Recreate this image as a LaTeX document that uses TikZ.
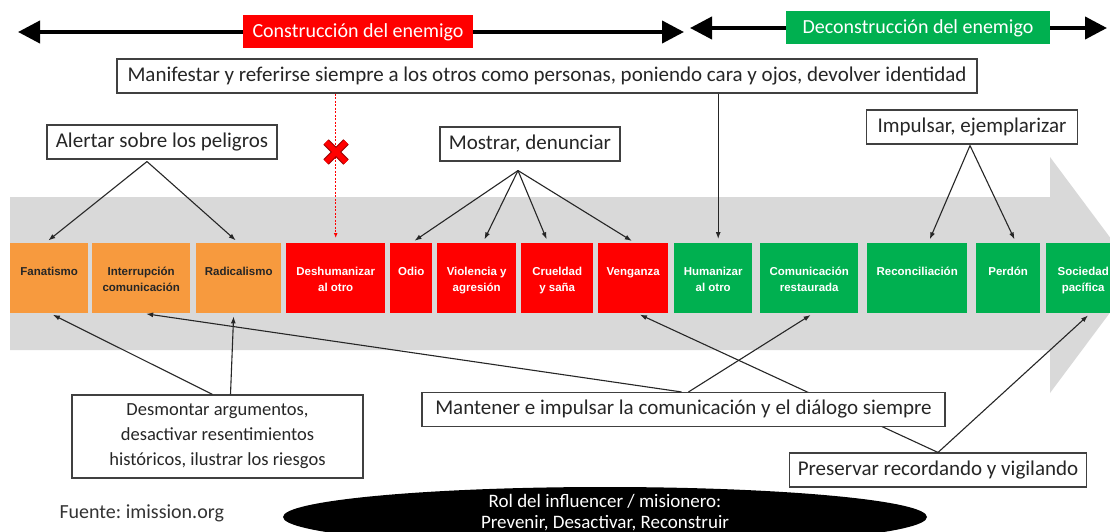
\documentclass[tikz,border=0pt]{standalone}
\usepackage{fontspec}
\setmainfont{Carlito}
\newfontfamily\arialf{Liberation Sans}
\usetikzlibrary{arrows.meta,shapes.geometric}
\frenchspacing
\definecolor{orng}{HTML}{F79A3E}
\definecolor{rd}{HTML}{FF0000}
\definecolor{grn}{HTML}{00B050}
\definecolor{gry}{HTML}{D9D9D9}
\definecolor{edge}{HTML}{404040}
\begin{document}
\begin{tikzpicture}[x=1pt,y=-1pt,
  note/.style={draw=edge, fill=white, line width=1.1pt, font=\fontsize{21}{25}\selectfont, inner xsep=8pt, inner ysep=0pt, minimum height=34pt, align=center, text=black!85},
  stage/.style={rectangle, minimum height=70pt, inner sep=0pt, anchor=north west},
  stagetxt/.style={anchor=north, inner sep=0pt, align=center, font=\arialf\bfseries\fontsize{11.5}{16}\selectfont},
  conn/.style={draw=black!85, line width=1.1pt, -{Latex[length=7pt,width=5pt]}},
  bigarrow/.style={line width=4pt, {Triangle[length=22pt,width=22pt]}-{Triangle[length=22pt,width=22pt]}},
  tag/.style={inner xsep=6pt, inner ysep=0pt, minimum height=33pt, text=white, font=\fontsize{20}{22}\selectfont}
]
\useasboundingbox (0,0) rectangle (1110,532);
\fill[white] (0,0) rectangle (1110,532);

% gray process arrow
\fill[gry] (10,197) -- (1050,197) -- (1050,157) -- (1138,275) -- (1050,393) -- (1050,350) -- (10,350) -- cycle;

% top arrows
\coordinate (tl) at (18,32);
\coordinate (tm) at (684,32);
\coordinate (tm2) at (690,28);
\coordinate (tr) at (1107,28);
\draw[bigarrow] (tl) -- (tm);
\draw[bigarrow] (tm2) -- (tr);
\node[tag, fill=rd, minimum width=230pt] (constr) at (358,32) {Construcción del enemigo};
\node[tag, fill=grn, minimum width=264pt] (deconstr) at (918,28) {Deconstrucción del enemigo};

% stage boxes
\node[stage, fill=orng, minimum width=78pt] (fan) at (10,243) {};
\node[stage, fill=orng, minimum width=98pt] (intr) at (92,243) {};
\node[stage, fill=orng, minimum width=85pt] (rad) at (196,243) {};
\node[stage, fill=rd, minimum width=99pt] (desh) at (286,243) {};
\node[stage, fill=rd, minimum width=42pt] (odio) at (390,243) {};
\node[stage, fill=rd, minimum width=79pt] (viol) at (437,243) {};
\node[stage, fill=rd, minimum width=72pt] (crue) at (521,243) {};
\node[stage, fill=rd, minimum width=70pt] (veng) at (598,243) {};
\node[stage, fill=grn, minimum width=78pt] (hum) at (674,243) {};
\node[stage, fill=grn, minimum width=98pt] (com) at (760,243) {};
\node[stage, fill=grn, minimum width=100pt] (reco) at (867,243) {};
\node[stage, fill=grn, minimum width=64pt] (perd) at (976,243) {};
\node[stage, fill=grn, minimum width=74pt] (soc) at (1046,243) {};

\node[stagetxt, text=black!85] at ([yshift=-24pt]fan.north) {Fanatismo};
\node[stagetxt, text=black!85] at ([yshift=-24pt]intr.north) {Interrupción\\comunicación};
\node[stagetxt, text=black!85] at ([yshift=-24pt]rad.north) {Radicalismo};
\node[stagetxt, text=white] at ([yshift=-24pt]desh.north) {Deshumanizar\\al otro};
\node[stagetxt, text=white] at ([yshift=-24pt]odio.north) {Odio};
\node[stagetxt, text=white] at ([yshift=-24pt]viol.north) {Violencia y\\agresión};
\node[stagetxt, text=white] at ([yshift=-24pt]crue.north) {Crueldad\\y saña};
\node[stagetxt, text=white] at ([yshift=-24pt]veng.north) {Venganza};
\node[stagetxt, text=white] at ([yshift=-24pt]hum.north) {Humanizar\\al otro};
\node[stagetxt, text=white] at ([yshift=-24pt]com.north) {Comunicación\\restaurada};
\node[stagetxt, text=white] at ([yshift=-24pt]reco.north) {Reconciliación};
\node[stagetxt, text=white] at ([yshift=-24pt]perd.north) {Perdón};
\node[stagetxt, text=white] at ([yshift=-24pt]soc.north) {Sociedad\\pacífica};

% upper notes
\node[note, minimum width=860pt] (manif) at (547,76) {Manifestar y referirse siempre a los otros como personas, poniendo cara y ojos, devolver identidad};
\node[note, minimum width=230pt] (alert) at (162,142) {Alertar sobre los peligros};
\node[note, minimum width=180pt] (most) at (530,144) {Mostrar, denunciar};
\node[note, minimum width=211pt] (impu) at (972,127) {Impulsar, ejemplarizar};

% red dotted arrow with cross
\draw[rd, line width=1pt, dash pattern=on 2pt off 1.5pt, -{Latex[length=5pt,width=4pt]}, shorten >=5pt] (manif.south -| desh.north) -- (desh.north);
\coordinate (xm) at (336,152);
\draw[rd!60!black, line width=7.5pt] ([shift={(-10,-10)}]xm) -- ([shift={(10,10)}]xm) ([shift={(-10,10)}]xm) -- ([shift={(10,-10)}]xm);
\draw[rd, line width=5.5pt] ([shift={(-10,-10)}]xm) -- ([shift={(10,10)}]xm) ([shift={(-10,10)}]xm) -- ([shift={(10,-10)}]xm);

% black arrow from manif
\draw[conn, shorten >=4pt] ([xshift=5pt]hum.north |- manif.south) -- ([xshift=5pt]hum.north);

% arrows from top notes
\draw[conn, shorten >=4pt] ([xshift=-15pt,yshift=-2pt]alert.south) -- ([xshift=-4pt]fan.north);
\draw[conn, shorten >=4pt] ([xshift=-15pt,yshift=-2pt]alert.south) -- (rad.north);
\draw[conn, shorten >=4pt] ([xshift=-12pt,yshift=-9pt]most.south) -- (odio.north);
\draw[conn, shorten >=4pt] ([xshift=-12pt,yshift=-9pt]most.south) -- ([xshift=6pt]viol.north);
\draw[conn, shorten >=4pt] ([xshift=-12pt,yshift=-9pt]most.south) -- ([xshift=-9pt]crue.north);
\draw[conn, shorten >=4pt] ([xshift=-12pt,yshift=-9pt]most.south) -- ([xshift=2pt]veng.north);
\draw[conn, shorten >=4pt] ([xshift=-2pt,yshift=-1pt]impu.south) -- ([xshift=11pt]reco.north);
\draw[conn, shorten >=4pt] ([xshift=-2pt,yshift=-1pt]impu.south) -- ([xshift=8pt]perd.north);

% lower notes
\node[note, font=\fontsize{18.5}{25}\selectfont, minimum width=291pt, minimum height=83pt] (desm) at (217.5,436.5) {Desmontar argumentos,\\desactivar resentimientos\\históricos, ilustrar los riesgos};
\node[note, minimum width=296pt] (pres) at (938,470) {Preservar recordando y vigilando};
\draw[conn, shorten >=3pt] (pres.north) -- ([xshift=4pt]veng.south);
\draw[conn, shorten >=3pt] (pres.north) -- ([xshift=7pt]soc.south);
\node[note, minimum width=523pt] (mant) at (683.5,409.5) {Mantener e impulsar la comunicación y el diálogo siempre};
\draw[conn, shorten >=3pt] ([xshift=-2pt]mant.north) -- ([xshift=2pt]intr.south);
\draw[conn, shorten >=3pt] ([xshift=5pt]mant.north) -- ([xshift=4pt]com.south);
\draw[conn, shorten >=3pt] ([xshift=-5pt]desm.north) -- ([xshift=1pt]fan.south);
\draw[conn, shorten >=3pt] ([xshift=13pt]desm.north) -- ([xshift=-5pt]rad.south);

% footer
\node[anchor=west, font=\fontsize{20}{22}\selectfont, text=black!80] (src) at (56,513) {Fuente: imission.org};
\node[ellipse, fill=black, minimum width=644pt, minimum height=60pt, inner sep=0pt] (rol) at (605,517) {};
\node[align=center, text=white, font=\fontsize{19}{21}\selectfont, inner sep=0pt] (roltxt) at (605,513) {Rol del influencer / misionero:\\Prevenir, Desactivar, Reconstruir};
\end{tikzpicture}
\end{document}
